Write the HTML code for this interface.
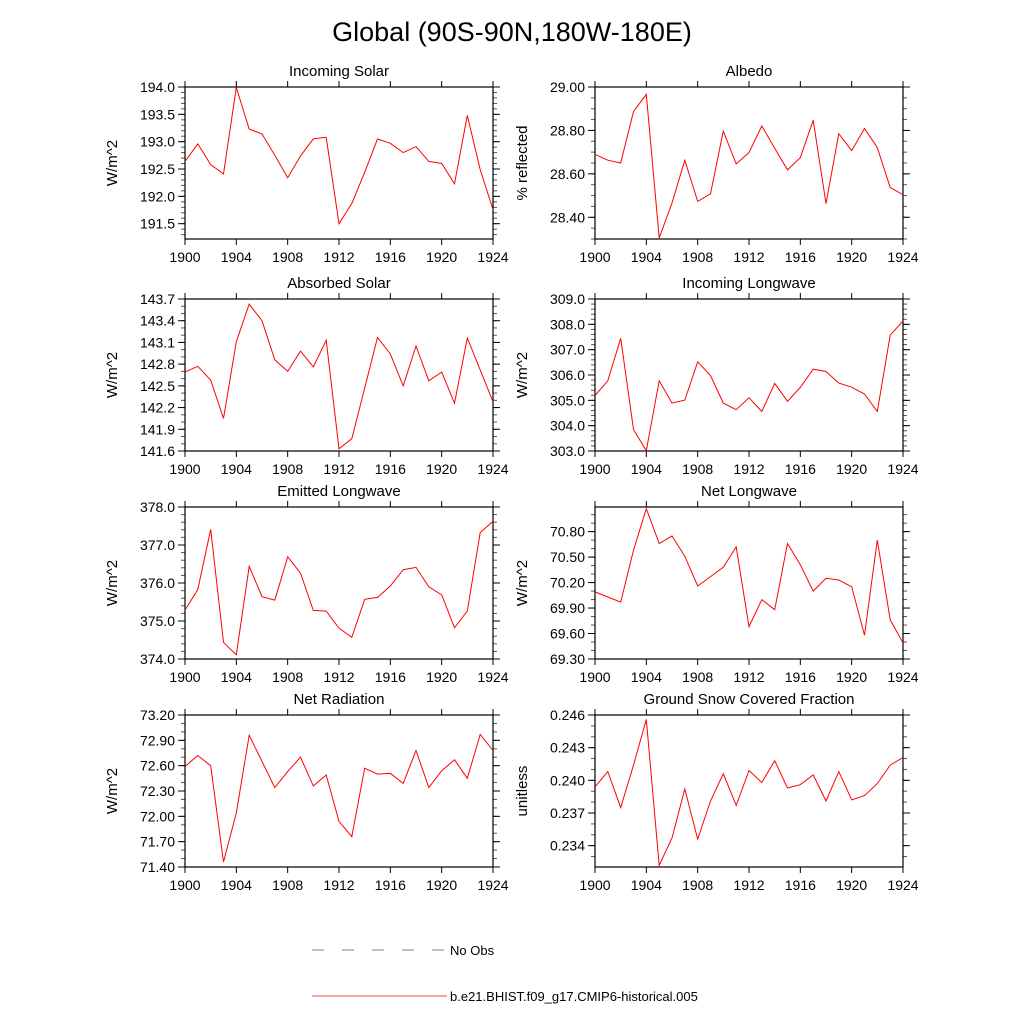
<!DOCTYPE html>
<html><head><meta charset="utf-8"><style>
body{margin:0;background:#fff;}
svg text{font-family:"Liberation Sans",sans-serif;fill:#000;}
</style></head><body>
<svg id="chart" width="1024" height="1024" viewBox="0 0 1024 1024" xmlns="http://www.w3.org/2000/svg">
<rect width="1024" height="1024" fill="#fff"/>
<text x="512" y="41" font-size="27" text-anchor="middle">Global (90S-90N,180W-180E)</text>
<g>
<line x1="312" y1="950" x2="447" y2="950" stroke="#555" stroke-width="0.8" stroke-dasharray="12,18"/>
<text x="450" y="955" font-size="13">No Obs</text>
<line x1="312" y1="996" x2="447" y2="996" stroke="#f00" stroke-width="0.8"/>
<text x="450" y="1001" font-size="13">b.e21.BHIST.f09_g17.CMIP6-historical.005</text>
</g>
</svg>
<script>
const years = [1900,1901,1902,1903,1904,1905,1906,1907,1908,1909,1910,1911,1912,1913,1914,1915,1916,1917,1918,1919,1920,1921,1922,1923,1924];
const xTickLabels = ["1900","1904","1908","1912","1916","1920","1924"];
const incomingSolar = [192.64,192.96,192.58,192.41,193.99,193.23,193.14,192.75,192.34,192.74,193.05,193.08,191.50,191.87,192.44,193.05,192.97,192.80,192.91,192.64,192.60,192.23,193.48,192.49,191.76];
const albedo = [28.69,28.663,28.65,28.887,28.966,28.305,28.466,28.663,28.473,28.508,28.797,28.646,28.698,28.821,28.718,28.618,28.675,28.847,28.463,28.785,28.707,28.809,28.721,28.537,28.504];
const absorbedSolar = [142.69,142.77,142.58,142.05,143.11,143.63,143.40,142.86,142.70,142.98,142.76,143.13,141.63,141.77,142.47,143.17,142.94,142.50,143.05,142.57,142.69,142.26,143.16,142.72,142.28];
const incomingLongwave = [305.19,305.77,307.45,303.85,303.01,305.77,304.89,305.01,306.52,305.98,304.89,304.63,305.10,304.56,305.67,304.96,305.51,306.23,306.14,305.68,305.52,305.25,304.56,307.57,308.13];
const emittedLongwave = [375.29,375.83,377.41,374.44,374.11,376.44,375.64,375.55,376.69,376.26,375.28,375.26,374.81,374.57,375.57,375.62,375.92,376.35,376.41,375.90,375.69,374.82,375.26,377.33,377.62];
const netLongwave = [70.09,70.03,69.97,70.58,71.07,70.66,70.75,70.51,70.16,70.27,70.38,70.62,69.68,70.00,69.88,70.66,70.41,70.10,70.25,70.23,70.15,69.58,70.70,69.76,69.49];
const netRadiation = [72.59,72.72,72.60,71.46,72.04,72.96,72.65,72.34,72.53,72.70,72.36,72.49,71.94,71.76,72.57,72.50,72.51,72.39,72.78,72.34,72.54,72.67,72.45,72.97,72.78];
const snowFraction = [0.2394,0.2408,0.2375,0.2414,0.2456,0.2322,0.2347,0.2392,0.2346,0.2381,0.2406,0.2377,0.2409,0.2398,0.2418,0.2393,0.2396,0.2405,0.2381,0.2408,0.2382,0.2386,0.2397,0.2414,0.2421];
const ticksIncomingSolar = ["191.5","192.0","192.5","193.0","193.5","194.0"];
const ticksAlbedo = ["28.40","28.60","28.80","29.00"];
const ticksAbsorbed = ["141.6","141.9","142.2","142.5","142.8","143.1","143.4","143.7"];
const ticksIncomingLW = ["303.0","304.0","305.0","306.0","307.0","308.0","309.0"];
const ticksEmitted = ["374.0","375.0","376.0","377.0","378.0"];
const ticksNetLW = ["69.30","69.60","69.90","70.20","70.50","70.80"];
const ticksNetRad = ["71.40","71.70","72.00","72.30","72.60","72.90","73.20"];
const ticksSnow = ["0.234","0.237","0.240","0.243","0.246"];

const NS = "http://www.w3.org/2000/svg";
const svg = document.getElementById('chart');
function mk(tag, attrs, parent){const e=document.createElementNS(NS,tag);for(const k in attrs)e.setAttribute(k,attrs[k]);parent.appendChild(e);return e;}

const panels = [
 {id:"incoming-solar",title:"Incoming Solar",yt:"W/m^2",col:0,row:0,data:incomingSolar,lo:191.22,hi:194.0,ticks:ticksIncomingSolar,minor:0.1},
 {id:"albedo",title:"Albedo",yt:"% reflected",col:1,row:0,data:albedo,lo:28.30,hi:29.0,ticks:ticksAlbedo,minor:0.05},
 {id:"absorbed-solar",title:"Absorbed Solar",yt:"W/m^2",col:0,row:1,data:absorbedSolar,lo:141.6,hi:143.7,ticks:ticksAbsorbed,minor:0.1},
 {id:"incoming-longwave",title:"Incoming Longwave",yt:"W/m^2",col:1,row:1,data:incomingLongwave,lo:303.0,hi:309.0,ticks:ticksIncomingLW,minor:0.2},
 {id:"emitted-longwave",title:"Emitted Longwave",yt:"W/m^2",col:0,row:2,data:emittedLongwave,lo:374.0,hi:378.0,ticks:ticksEmitted,minor:0.2},
 {id:"net-longwave",title:"Net Longwave",yt:"W/m^2",col:1,row:2,data:netLongwave,lo:69.30,hi:71.09,ticks:ticksNetLW,minor:0.1},
 {id:"net-radiation",title:"Net Radiation",yt:"W/m^2",col:0,row:3,data:netRadiation,lo:71.40,hi:73.20,ticks:ticksNetRad,minor:0.1},
 {id:"ground-snow",title:"Ground Snow Covered Fraction",yt:"unitless",col:1,row:3,data:snowFraction,lo:0.23204,hi:0.246,ticks:ticksSnow,minor:0.001}
];
const colX=[185,595], rowY=[87,299,507,715], W=308, H=152;

panels.forEach(p=>{
  const x0=colX[p.col], y0=rowY[p.row];
  const g=mk('g',{},svg);
  
  
  const xs=v=>x0+(v-1900)/24*W;
  const ys=v=>y0+H-(v-p.lo)/(p.hi-p.lo)*H;
  const tg=mk('g',{stroke:'#000','stroke-width':1},g);
  
  
  xTickLabels.forEach(l=>{
    const x=xs(+l);
    mk('line',{x1:x,y1:y0+H,x2:x,y2:y0+H+6},tg);
    mk('line',{x1:x,y1:y0,x2:x,y2:y0-6},tg);
    const t=mk('text',{x:x,y:y0+H+23,'font-size':14,'text-anchor':'middle'},g);
    t.textContent=l;
    
    
  });
  const nMin=Math.round((p.hi-p.lo)/p.minor)+2;
  const start=Math.ceil(p.lo/p.minor-1e-6)*p.minor;
  for(let i=0;i<nMin;i++){
    const v=start+i*p.minor; if(v>p.hi+1e-9)break;
    const y=ys(v);
    mk('line',{x1:x0,y1:y,x2:x0-4,y2:y,stroke:'#555'},tg);
    mk('line',{x1:x0+W,y1:y,x2:x0+W+4,y2:y,stroke:'#555'},tg);
  }
  p.ticks.forEach(l=>{
    const y=ys(+l);
    mk('line',{x1:x0,y1:y,x2:x0-7,y2:y},tg);
    mk('line',{x1:x0+W,y1:y,x2:x0+W+7,y2:y},tg);
    const t=mk('text',{x:x0-10,y:y+5,'font-size':14,'text-anchor':'end'},g);
    t.textContent=l;
    
    
  });
  const fr=mk('rect',{x:x0,y:y0,width:W,height:H,fill:'none',stroke:'#000','stroke-width':1.2},g);
  
  
  const tt=mk('text',{x:x0+W/2,y:y0-11,'font-size':15,'text-anchor':'middle'},g);
  tt.textContent=p.title;
  
  
  const yx=x0-68;
  const yl=mk('text',{x:yx,y:y0+H/2,'font-size':15,'text-anchor':'middle',transform:`rotate(-90 ${yx} ${y0+H/2})`},g);
  yl.textContent=p.yt;
  
  
  const pts=p.data.map((v,i)=>xs(years[i]).toFixed(1)+','+ys(v).toFixed(1)).join(' ');
  const line=mk('polyline',{points:pts,fill:'none',stroke:'#f00','stroke-width':1},g);
  
  
});
</script>
</body></html>
